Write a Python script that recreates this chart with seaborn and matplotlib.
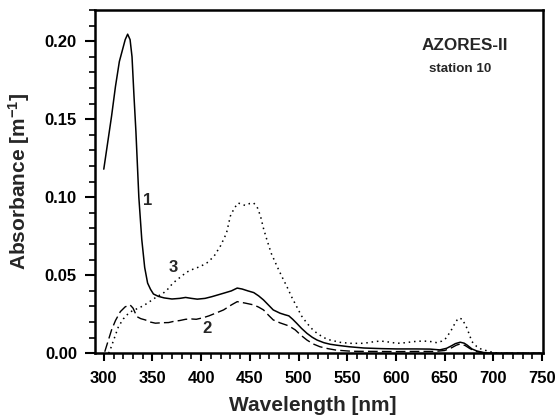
import matplotlib
matplotlib.use("Agg")
import matplotlib.pyplot as plt
from matplotlib.ticker import MultipleLocator, FormatStrFormatter
import seaborn as sns
import pandas as pd

# Absorption spectra, AZORES-II station 10
wl_1 = [300, 304, 308, 312, 316, 319, 322, 324.5, 327, 329, 331, 333, 336, 339, 342,
        345, 348, 351, 356, 362, 370, 378, 384, 390, 396, 404, 411, 423, 431, 437,
        442, 448, 454, 459, 464, 469, 474, 481, 486, 490, 494, 498, 503, 508.6, 514,
        519, 526, 532.5, 539, 552, 567, 585, 601, 620, 635, 645, 652, 657, 661, 666,
        670, 673, 678, 683, 690, 700, 750]
abs_1 = [0.118, 0.135, 0.152, 0.171, 0.187, 0.194, 0.201, 0.2045, 0.201, 0.190,
         0.165, 0.142, 0.100, 0.073, 0.055, 0.045, 0.041, 0.038, 0.0365, 0.0355,
         0.0348, 0.0352, 0.0358, 0.0352, 0.0347, 0.0352, 0.0363, 0.0385, 0.040,
         0.0418, 0.0412, 0.040, 0.0389, 0.0368, 0.0342, 0.031, 0.0278, 0.0257,
         0.0247, 0.024, 0.0218, 0.0193, 0.016, 0.0128, 0.0103, 0.0085, 0.0068,
         0.0058, 0.0052, 0.0042, 0.0034, 0.003, 0.0028, 0.0028, 0.0027, 0.0022,
         0.0032, 0.0048, 0.0062, 0.0071, 0.0065, 0.0053, 0.0028, 0.0015, 0.0005,
         0.0, 0.0]

wl_2 = [301, 304, 308, 312, 317, 322, 327, 330, 334, 338, 342.6, 348, 353, 360,
        366.5, 372, 378, 384, 390, 395, 402, 408, 416, 423, 431, 437, 445, 454,
        459, 464, 469, 474, 481, 488, 492, 496.6, 502, 508.6, 515, 522, 530, 539,
        555, 580, 600, 620, 640, 650, 657, 662, 666, 671, 676, 682, 690, 700, 750]
abs_2 = [0.001, 0.007, 0.015, 0.021, 0.0267, 0.0298, 0.031, 0.029, 0.0235, 0.0222,
         0.0214, 0.020, 0.0193, 0.0196, 0.0197, 0.0205, 0.021, 0.0218, 0.022,
         0.0218, 0.0228, 0.024, 0.026, 0.0278, 0.031, 0.0331, 0.0322, 0.031,
         0.0296, 0.0278, 0.0245, 0.0214, 0.0195, 0.018, 0.0168, 0.015, 0.0118,
         0.0085, 0.006, 0.0042, 0.003, 0.002, 0.0013, 0.0012, 0.0011, 0.0012,
         0.0012, 0.0018, 0.0035, 0.0052, 0.006, 0.005, 0.003, 0.0012, 0.0003,
         0.0, 0.0]

wl_3 = [305, 307, 311, 315, 320, 325.5, 330, 336, 342, 348, 355, 360, 365, 371,
        378, 385, 392, 399, 406, 413, 420, 426, 430, 434, 438, 445, 450, 454, 458,
        461, 464, 467.5, 472, 478, 483, 488, 493, 498, 503, 508.6, 514, 519, 526,
        532.5, 543, 553, 567, 575, 584, 593, 601, 610, 618, 628, 636, 642, 647,
        651, 656, 661, 664, 668, 673, 678, 683, 688, 693, 700, 710, 750]
abs_3 = [0.0, 0.003, 0.010, 0.017, 0.022, 0.0257, 0.0275, 0.029, 0.031, 0.0335,
         0.0365, 0.038, 0.0406, 0.045, 0.0485, 0.052, 0.054, 0.0556, 0.058, 0.062,
         0.069, 0.077, 0.088, 0.093, 0.0963, 0.0948, 0.096, 0.0963, 0.093, 0.0877,
         0.080, 0.0727, 0.064, 0.0556, 0.049, 0.0428, 0.036, 0.030, 0.024, 0.0193,
         0.0155, 0.0128, 0.010, 0.0085, 0.007, 0.0064, 0.0064, 0.0072, 0.0079,
         0.0072, 0.0064, 0.0068, 0.0075, 0.0079, 0.0075, 0.0068, 0.0078, 0.0095,
         0.0139, 0.0197, 0.0225, 0.022, 0.016, 0.0075, 0.0043, 0.0025, 0.0017,
         0.0005, 0.0, 0.0]

curve_labels = ["1", "2", "3"]
label_pos = [(345, 0.098), (406, 0.016), (371, 0.055)]

sns.set_theme(style="white")
plt.rcParams["font.family"] = ["Liberation Sans", "DejaVu Sans"]
plt.rcParams["font.weight"] = "bold"
plt.rcParams["mathtext.fontset"] = "custom"
plt.rcParams["mathtext.rm"] = "Liberation Sans:bold"
plt.rcParams["mathtext.default"] = "regular"

fig = plt.figure(figsize=(5.55, 4.16), dpi=100)
ax = fig.add_axes([0.1712, 0.1507, 0.8072, 0.8253])

df1 = pd.DataFrame({"wl": wl_1, "a": abs_1})
df2 = pd.DataFrame({"wl": wl_2, "a": abs_2})
df3 = pd.DataFrame({"wl": wl_3, "a": abs_3})

sns.lineplot(data=df1, x="wl", y="a", ax=ax, color="black", lw=1.1, sort=False)
sns.lineplot(data=df2, x="wl", y="a", ax=ax, color="black", lw=1.0, sort=False,
             linestyle=(0, (7, 3)))
sns.lineplot(data=df3, x="wl", y="a", ax=ax, color="black", lw=1.1, sort=False,
             linestyle=(0, (1, 2.5)))

for lab, (lx, ly) in zip(curve_labels, label_pos):
    ax.text(lx, ly, lab, fontsize=12, fontweight="bold", ha="center", va="center")

ax.text(671, 0.197, "AZORES-II", fontsize=12.3, fontweight="bold", ha="center", va="center")
ax.text(666, 0.182, "station 10", fontsize=9.6, fontweight="bold", ha="center", va="center")

ax.set_xlim(291, 751)
ax.set_ylim(0, 0.22)
ax.xaxis.set_major_locator(MultipleLocator(50))
ax.xaxis.set_minor_locator(MultipleLocator(10))
ax.yaxis.set_major_locator(MultipleLocator(0.05))
ax.yaxis.set_minor_locator(MultipleLocator(0.01))
ax.yaxis.set_major_formatter(FormatStrFormatter("%.2f"))

for s in ax.spines.values():
    s.set_color("black")
    s.set_linewidth(1.8)

ax.tick_params(axis="both", which="major", direction="out", length=6, width=1.5,
               labelsize=12, colors="black", bottom=True, left=True)
ax.tick_params(axis="x", which="major", pad=7)
ax.tick_params(axis="y", which="major", length=7, pad=6)
ax.tick_params(axis="both", which="minor", direction="out", length=4, width=1.2,
               colors="black", bottom=True, left=True)
for t in ax.get_xticklabels() + ax.get_yticklabels():
    t.set_fontweight("bold")

ax.set_xlabel("Wavelength [nm]", fontsize=15, fontweight="bold")
ax.set_ylabel(r"Absorbance [m$^{-1}$]", fontsize=15, fontweight="bold")
ax.xaxis.set_label_coords(0.4866, -0.124)
ax.yaxis.set_label_coords(-0.141, 0.5)

fig.savefig("out.png", dpi=100)
